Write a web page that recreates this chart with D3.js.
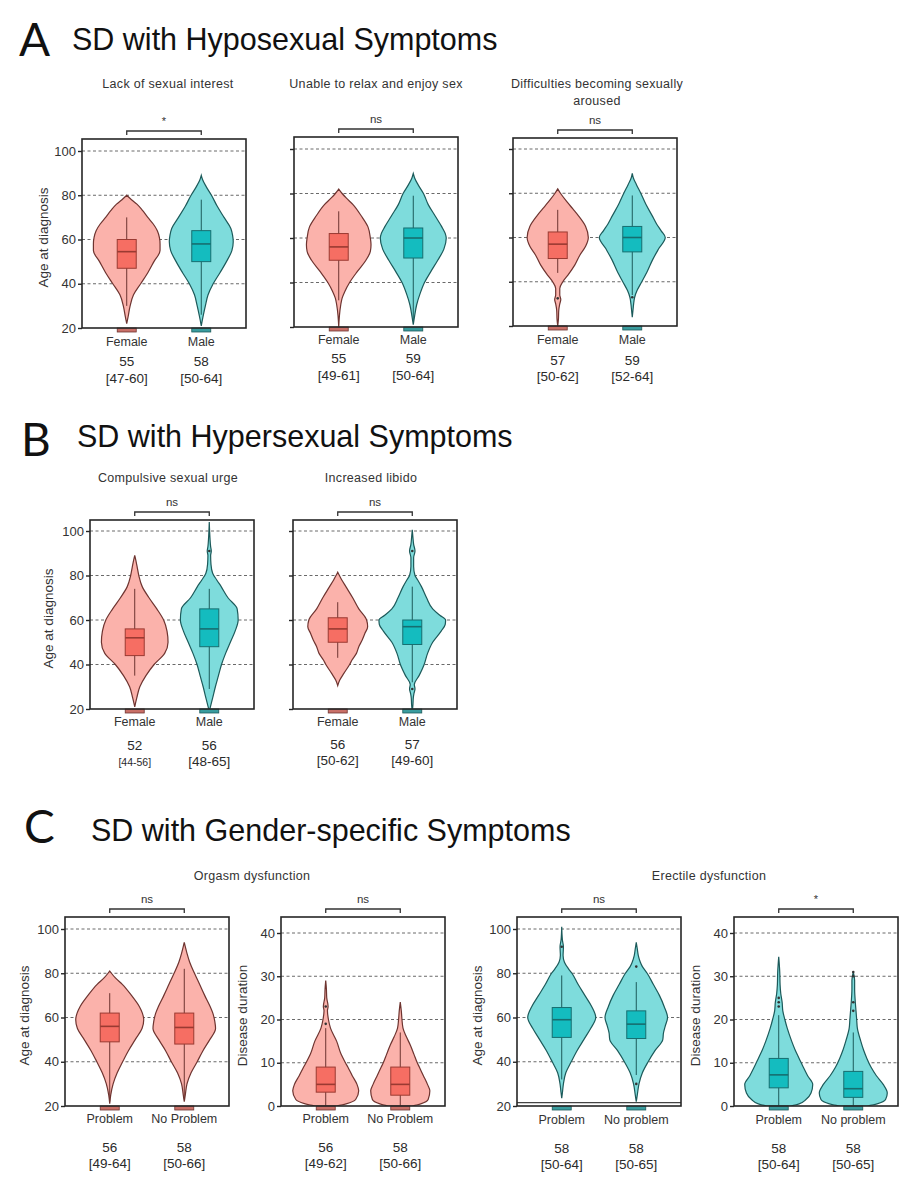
<!DOCTYPE html>
<html>
<head>
<meta charset="utf-8">
<script src="https://cdn.jsdelivr.net/npm/d3@7"></script>
<style>
  body { margin: 0; background: #fff; }
  text { font-family: "Liberation Sans", Arial, sans-serif; fill: #2a2a2a; }
</style>
</head>
<body>
<svg id="fig" width="922" height="1190"></svg>
<script>
// ---- data ----
const sexGroups = ['Female', 'Male'];
const orgGroups = ['Problem', 'No Problem'];
const erecGroups = ['Problem', 'No problem'];
const ageTicks = [20, 40, 60, 80, 100];
const durTicks = [0, 10, 20, 30, 40];

// violin outlines: [value, relative half width]
const lackF = [[22,0],[25,0.04],[30,0.1],[35,0.2],[40,0.41],[45,0.62],[50,0.8],[55,0.98],[58,0.98],[61,0.96],[64,0.9],[67,0.78],[70,0.62],[73,0.47],[76,0.3],[78,0.14],[80,0]];
const lackM = [[21,0],[25,0.05],[30,0.12],[35,0.2],[40,0.35],[45,0.55],[50,0.74],[55,0.9],[59,0.94],[62,0.92],[65,0.87],[70,0.67],[75,0.47],[80,0.3],[84,0.14],[87,0.04],[89,0]];
const relaxF = [[20,0],[25,0.02],[30,0.06],[33,0.1],[36,0.18],[40,0.32],[45,0.55],[50,0.8],[54,0.93],[57,0.95],[60,0.93],[65,0.86],[70,0.66],[75,0.42],[78,0.22],[80,0.1],[82,0]];
const relaxM = [[21,0],[25,0.04],[30,0.1],[35,0.2],[40,0.33],[45,0.52],[50,0.72],[55,0.9],[60,0.97],[62,0.94],[65,0.84],[70,0.64],[75,0.44],[80,0.3],[84,0.14],[87,0.04],[89,0]];
const arousedF = [[20,0],[23,0.02],[27,0.03],[30,0.06],[32,0.09],[34,0.06],[37,0.06],[40,0.15],[43,0.3],[47.5,0.5],[52,0.65],[56,0.82],[60,0.9],[65,0.82],[70,0.6],[73,0.44],[76,0.28],[80,0.08],[82,0]];
const arousedM = [[24,0],[27,0.02],[30,0.04],[33,0.07],[36,0.14],[40,0.28],[45,0.45],[50,0.6],[55,0.78],[60,0.97],[63,0.85],[66,0.72],[70,0.58],[75,0.4],[80,0.25],[84,0.12],[87,0.03],[89,0]];
const urgeF = [[21,0],[25,0.06],[30,0.15],[35,0.33],[40,0.57],[45,0.88],[50,0.98],[55,0.95],[60,0.85],[65,0.65],[70,0.42],[75,0.22],[80,0.12],[84,0.07],[87,0.03],[89,0]];
const urgeM = [[19,0],[22,0.05],[25,0.1],[30,0.18],[35,0.27],[40,0.36],[45,0.48],[50,0.62],[55,0.76],[60,0.85],[65,0.82],[70,0.55],[75,0.35],[78,0.22],[81,0.1],[85,0.05],[89,0.04],[91,0.06],[93,0.04],[97,0.02],[104,0]];
const libidoF = [[30.5,0],[33,0.06],[36,0.18],[40,0.35],[42,0.42],[45,0.55],[48,0.62],[51,0.72],[54,0.8],[57,0.88],[60,0.85],[65,0.62],[70,0.44],[75,0.24],[78,0.12],[80,0.05],[81.5,0]];
const libidoM = [[19,0],[22,0.02],[25,0.03],[27,0.05],[29,0.08],[31,0.06],[35,0.2],[40,0.35],[45,0.45],[50,0.6],[55,0.85],[58,0.97],[60,0.98],[62,0.82],[65,0.6],[70,0.42],[75,0.27],[78,0.16],[80,0.08],[84,0.04],[88,0.04],[91,0.08],[94,0.04],[97,0.02],[100.5,0]];
const orgAgeP = [[21,0],[25,0.03],[30,0.1],[35,0.22],[40,0.38],[45,0.55],[50,0.75],[55,0.95],[59,1.0],[62,0.96],[65,0.87],[70,0.64],[75,0.37],[78,0.16],[80,0.05],[81,0]];
const orgAgeN = [[22,0],[25,0.03],[30,0.08],[35,0.2],[40,0.38],[45,0.55],[50,0.75],[55,0.92],[58,0.9],[62,0.84],[65,0.76],[70,0.6],[75,0.45],[80,0.3],[85,0.16],[89,0.08],[92,0.03],[94,0]];
const orgDurP = [[0,0.3],[0.5,0.6],[1.5,0.88],[3.5,0.97],[5,0.92],[7,0.78],[9,0.65],[10,0.58],[12,0.45],[15,0.32],[18,0.14],[20,0.08],[22,0.05],[23,0.07],[25,0.03],[27,0.02],[29,0]];
const orgDurN = [[0,0.35],[0.5,0.6],[1.5,0.82],[3.5,0.87],[5,0.8],[7,0.68],[9,0.56],[10,0.5],[12,0.4],[14,0.3],[16,0.18],[18,0.08],[20,0.05],[22,0.03],[24,0]];
const erecAgeP = [[23.5,0],[26,0.02],[30,0.05],[35,0.12],[40,0.28],[45,0.45],[50,0.65],[55,0.85],[60,1.0],[65,0.88],[70,0.68],[75,0.48],[80,0.3],[82,0.2],[85,0.08],[88,0.04],[92,0.05],[95,0.02],[101,0]];
const erecAgeN = [[22,0],[25,0.03],[30,0.08],[35,0.18],[40,0.35],[45,0.55],[50,0.78],[53,0.8],[56,0.85],[60,0.92],[65,0.82],[70,0.68],[75,0.5],[80,0.32],[83,0.18],[85,0.12],[88,0.06],[91,0.03],[94,0]];
const erecDurP = [[0,0.35],[0.5,0.6],[1.5,0.8],[3,0.95],[5,1.0],[7,0.85],[9,0.72],[11,0.6],[13,0.48],[15,0.38],[18,0.25],[20,0.18],[22,0.12],[24,0.1],[26,0.06],[28,0.04],[31,0.03],[34.5,0]];
const erecDurN = [[0,0.4],[0.5,0.7],[1.5,0.95],[3,1.0],[5,0.88],[7,0.68],[9,0.52],[11,0.4],[13,0.3],[15,0.22],[18,0.12],[20,0.1],[22,0.08],[24,0.06],[27,0.04],[29,0.04],[31,0]];

// boxes: [lower whisker, q1, median, q3, upper whisker] per group
const lackBox = [[30,47,54.5,60,70],[26,50,58,64,78]];
const relaxBox = [[32,50,56,62,72],[23,51,60,64.5,79]];
const arousedBox = [[44,50.5,57,62.5,72.5],[34,53.5,60,65,79]];
const urgeBox = [[35,44,52,56,74],[29,48,56,65,74]];
const libidoBox = [[43,50,56,61,68],[32,49,57,60,75]];
const orgAgeBox = [[22,49,56,62,71],[23,48,55.5,62,82]];
const orgDurBox = [[0,3.2,5,9,18],[0,2.5,5,9,17]];
const erecAgeBox = [[32,51,59,64.5,79],[34,50.5,57,63,76]];
const erecDurBox = [[0,4.2,7.2,11,21],[0,2,4,8,17]];

// single points
const arousedOut = [[32.5],[33]];
const urgeOut = [[],[91]];
const libidoOut = [[],[91,29]];
const orgDurOut = [[19,23],[]];
const erecAgeOut = [[92],[83,30]];
const erecDurOut = [[23,24,25],[22,24,30,31]];
const erecAgeRule = [21.5];

// median [IQR] printed under each group
const lackMed = ['55','58'], lackIqr = ['[47-60]','[50-64]'];
const relaxMed = ['55','59'], relaxIqr = ['[49-61]','[50-64]'];
const arousedMed = ['57','59'], arousedIqr = ['[50-62]','[52-64]'];
const urgeMed = ['52','56'], urgeIqr = ['[44-56]','[48-65]'];
const libidoMed = ['56','57'], libidoIqr = ['[50-62]','[49-60]'];
const orgAgeMed = ['56','58'], orgAgeIqr = ['[49-64]','[50-66]'];
const orgDurMed = ['56','58'], orgDurIqr = ['[49-62]','[50-66]'];
const erecMed = ['58','58'], erecIqr = ['[50-64]','[50-65]'];

const panelLetters = ['A','B','C'];
const panelTitles = ['SD with Hyposexual Symptoms','SD with Hypersexual Symptoms','SD with Gender-specific Symptoms'];

// ---- styles ----
const RED = { violin: '#fbb2ab', box: '#f66e63', line: '#6e3430', boxLine: '#9a3a32', foot: '#c97068' };
const TEAL = { violin: '#7edcdc', box: '#14bcbf', line: '#1c5a5a', boxLine: '#176e70', foot: '#3a9c9e' };

const svg = d3.select('#fig');
const PW = 164;

// panel headings
const heads = [
  { lx: 19, ly: 56, tx: 72, ty: 50 },
  { lx: 21, ly: 456, tx: 77, ty: 447 },
  { lx: 24, ly: 843, tx: 91, ty: 841 }
];
heads.forEach((h, i) => {
  svg.append('text').attr('x', h.lx).attr('y', h.ly)
    .style('font-family', 'Lato, "Open Sans", sans-serif').style('font-size', '46px').style('fill', '#111')
    .text(panelLetters[i]);
  svg.append('text').attr('x', h.tx).attr('y', h.ty)
    .style('font-size', '30.5px').style('fill', '#111')
    .text(panelTitles[i]);
});

// subtitles
const subs = [
  { x: 168, y: 88, lines: ['Lack of sexual interest'] },
  { x: 376, y: 88, lines: ['Unable to relax and enjoy sex'] },
  { x: 597, y: 88, lines: ['Difficulties becoming sexually', 'aroused'] },
  { x: 168, y: 482, lines: ['Compulsive sexual urge'] },
  { x: 371, y: 482, lines: ['Increased libido'] },
  { x: 252, y: 880, lines: ['Orgasm dysfunction'] },
  { x: 709, y: 880, lines: ['Erectile dysfunction'] }
];
subs.forEach(s => {
  const t = svg.append('text').attr('text-anchor', 'middle')
    .style('font-size', '12.5px').style('letter-spacing', '0.3px').style('fill', '#333');
  s.lines.forEach((l, i) => t.append('tspan').attr('x', s.x).attr('y', s.y + i * 17).text(l));
});

const plots = [
  { left: 82, top: 139, bottom: 328, span: 177, dom: [20,100], ticks: ageTicks, labels: true, ylab: 'Age at diagnosis', ylabX: 48,
    cats: sexGroups, pal: [RED, TEAL], violins: [lackF, lackM], boxes: lackBox, out: [[],[]], med: lackMed, iqr: lackIqr, sig: '*', off: [14, 33, 50] },
  { left: 294, top: 137, bottom: 327, span: 178, dom: [20,100], ticks: ageTicks, labels: false,
    cats: sexGroups, pal: [RED, TEAL], violins: [relaxF, relaxM], boxes: relaxBox, out: [[],[]], med: relaxMed, iqr: relaxIqr, sig: 'ns', off: [13, 31, 48] },
  { left: 513, top: 138, bottom: 326, span: 177, dom: [20,100], ticks: ageTicks, labels: false,
    cats: sexGroups, pal: [RED, TEAL], violins: [arousedF, arousedM], boxes: arousedBox, out: arousedOut, med: arousedMed, iqr: arousedIqr, sig: 'ns', off: [14, 34, 50] },
  { left: 90, top: 520, bottom: 709, span: 178, dom: [20,100], ticks: ageTicks, labels: true, ylab: 'Age at diagnosis', ylabX: 53,
    cats: sexGroups, pal: [RED, TEAL], violins: [urgeF, urgeM], boxes: urgeBox, out: urgeOut, med: urgeMed, iqr: urgeIqr, iqrSize: [10.5, 13.5], sig: 'ns', off: [13, 36, 52] },
  { left: 293, top: 520, bottom: 709, span: 178, dom: [20,100], ticks: ageTicks, labels: false,
    cats: sexGroups, pal: [RED, TEAL], violins: [libidoF, libidoM], boxes: libidoBox, out: libidoOut, med: libidoMed, iqr: libidoIqr, sig: 'ns', off: [13, 35, 51] },
  { left: 65, top: 917, bottom: 1106, span: 177, dom: [20,100], ticks: ageTicks, labels: true, ylab: 'Age at diagnosis', ylabX: 29,
    cats: orgGroups, pal: [RED, RED], violins: [orgAgeP, orgAgeN], boxes: orgAgeBox, out: [[],[]], med: orgAgeMed, iqr: orgAgeIqr, sig: 'ns', off: [13, 41, 57] },
  { left: 281, top: 917, bottom: 1106, span: 173, dom: [0,40], ticks: durTicks, labels: true, ylab: 'Disease duration', ylabX: 247,
    cats: orgGroups, pal: [RED, RED], violins: [orgDurP, orgDurN], boxes: orgDurBox, out: orgDurOut, med: orgDurMed, iqr: orgDurIqr, sig: 'ns', off: [13, 41, 57] },
  { left: 517, top: 917, bottom: 1106, span: 177, dom: [20,100], ticks: ageTicks, labels: true, ylab: 'Age at diagnosis', ylabX: 482,
    cats: erecGroups, pal: [TEAL, TEAL], violins: [erecAgeP, erecAgeN], boxes: erecAgeBox, out: erecAgeOut, rule: erecAgeRule, med: erecMed, iqr: erecIqr, sig: 'ns', off: [14, 42, 58] },
  { left: 734, top: 917, bottom: 1106, span: 173, dom: [0,40], ticks: durTicks, labels: true, ylab: 'Disease duration', ylabX: 700,
    cats: erecGroups, pal: [TEAL, TEAL], violins: [erecDurP, erecDurN], boxes: erecDurBox, out: erecDurOut, med: erecMed, iqr: erecIqr, sig: '*', off: [14, 42, 58] }
];

const halfW = d3.scaleLinear().domain([0, 1]).range([0, 34]);

plots.forEach((p, pi) => {
  const right = p.left + PW;
  const y = d3.scaleLinear().domain(p.dom).range([p.bottom, p.bottom - p.span]);
  const x = d3.scalePoint().domain(p.cats).range([p.left, right]).padding(0.6);
  const g = svg.append('g');

  g.append('clipPath').attr('id', 'clip' + pi)
    .append('rect').attr('x', p.left).attr('y', p.top).attr('width', PW).attr('height', p.bottom - p.top);

  // dashed grid
  g.selectAll('.grid').data(p.ticks.slice(1)).enter().append('line')
    .attr('x1', p.left).attr('x2', right)
    .attr('y1', d => y(d)).attr('y2', d => y(d))
    .attr('stroke', '#6a6a6a').attr('stroke-width', 1).attr('stroke-dasharray', '3,2.5');

  const inner = g.append('g').attr('clip-path', `url(#clip${pi})`);

  p.cats.forEach((c, ci) => {
    const cx = x(c);
    const col = p.pal[ci];
    // points sorted top-down so y is increasing in pixels
    const pts = p.violins[ci].slice().sort((a, b) => b[0] - a[0]);
    const area = d3.area()
      .y(d => y(d[0]))
      .x0(d => cx - halfW(d[1]))
      .x1(d => cx + halfW(d[1]))
      .curve(d3.curveMonotoneY);
    inner.append('path').datum(pts).attr('d', area)
      .attr('fill', col.violin).attr('stroke', col.line).attr('stroke-width', 1.2);

    const b = p.boxes[ci];
    inner.append('line').attr('x1', cx).attr('x2', cx).attr('y1', y(b[0])).attr('y2', y(b[4]))
      .attr('stroke', col.line).attr('stroke-width', 1);
    inner.append('rect').attr('x', cx - 9.5).attr('width', 19)
      .attr('y', y(b[3])).attr('height', y(b[1]) - y(b[3]))
      .attr('fill', col.box).attr('stroke', col.boxLine).attr('stroke-width', 1);
    inner.append('line').attr('x1', cx - 9.5).attr('x2', cx + 9.5).attr('y1', y(b[2])).attr('y2', y(b[2]))
      .attr('stroke', col.boxLine).attr('stroke-width', 1.6);

    inner.selectAll(null).data(p.out[ci]).enter().append('circle')
      .attr('cx', cx).attr('cy', d => y(d)).attr('r', 1.3).attr('fill', '#333');

    // small swatch under the axis
    g.append('rect').attr('x', cx - 9.5).attr('y', p.bottom).attr('width', 19).attr('height', 4)
      .attr('fill', col.foot).attr('stroke', col.line).attr('stroke-width', 0.8);

    // group label and median [IQR]
    g.append('text').attr('x', cx).attr('y', p.bottom + p.off[0] + 4).attr('text-anchor', 'middle')
      .style('font-size', '12.5px').style('fill', '#333').text(c);
    g.append('text').attr('x', cx).attr('y', p.bottom + p.off[1] + 5).attr('text-anchor', 'middle')
      .style('font-size', '13.5px').text(p.med[ci]);
    g.append('text').attr('x', cx).attr('y', p.bottom + p.off[2] + 5).attr('text-anchor', 'middle')
      .style('font-size', (p.iqrSize ? p.iqrSize[ci] : 13.5) + 'px').text(p.iqr[ci]);
  });

  if (p.rule) {
    g.selectAll('.rule').data(p.rule).enter().append('line')
      .attr('x1', p.left).attr('x2', right).attr('y1', d => y(d)).attr('y2', d => y(d))
      .attr('stroke', '#444').attr('stroke-width', 1.2);
  }

  // frame
  g.append('rect').attr('x', p.left).attr('y', p.top).attr('width', PW).attr('height', p.bottom - p.top)
    .attr('fill', 'none').attr('stroke', '#262626').attr('stroke-width', 1.6);

  // y axis
  const ax = g.append('g').attr('transform', `translate(${p.left},0)`)
    .call(d3.axisLeft(y).tickValues(p.ticks).tickSize(4).tickPadding(2)
      .tickFormat(p.labels ? d3.format('d') : () => ''));
  ax.select('.domain').remove();
  ax.selectAll('.tick line').attr('stroke', '#262626').attr('stroke-width', 1.4);
  ax.selectAll('.tick text').style('font-size', '13px').style('fill', '#333')
    .style('font-family', '"Liberation Sans", Arial, sans-serif');

  if (p.ylab) {
    g.append('text').attr('transform', `translate(${p.ylabX},${(p.top + p.bottom) / 2 + 4}) rotate(-90)`)
      .attr('text-anchor', 'middle').style('font-size', '13.5px').style('fill', '#333').text(p.ylab);
  }

  // significance bracket
  const bx0 = x(p.cats[0]), bx1 = x(p.cats[1]), by = p.top - 8;
  g.append('path').attr('d', `M${bx0},${by + 4}V${by}H${bx1}V${by + 4}`)
    .attr('fill', 'none').attr('stroke', '#333').attr('stroke-width', 1.3);
  g.append('text').attr('x', (bx0 + bx1) / 2).attr('y', by - 6).attr('text-anchor', 'middle')
    .style('font-size', p.sig === '*' ? '11px' : '11.5px').style('fill', '#333').text(p.sig);
});
</script>
</body>
</html>
